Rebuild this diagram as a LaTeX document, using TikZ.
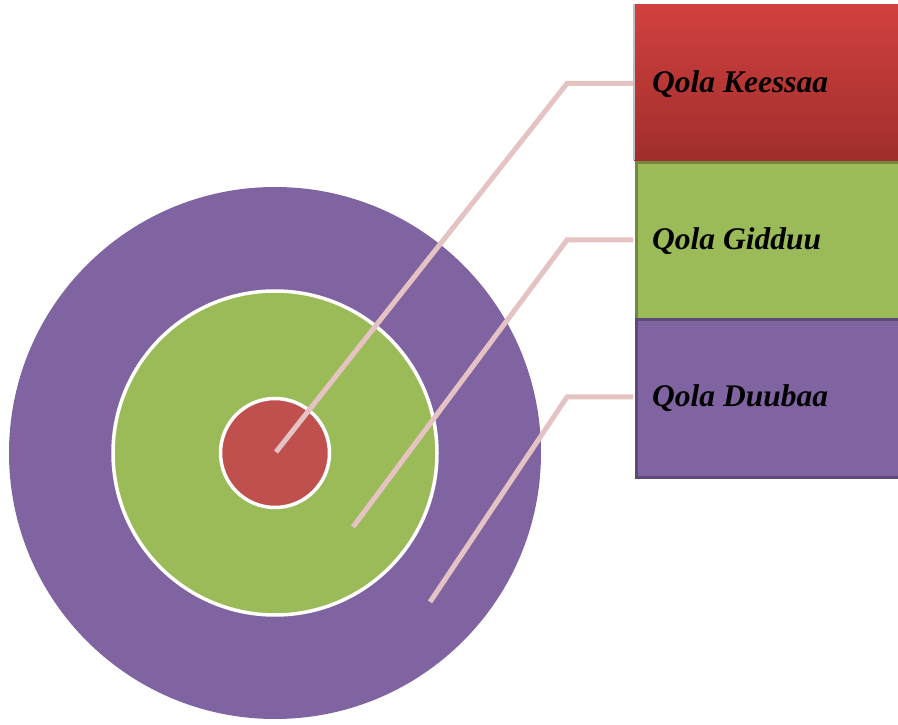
\documentclass[tikz,border=0pt]{standalone}
\usepackage{fontspec}
\setmainfont{Liberation Serif}
\definecolor{outerP}{RGB}{128,100,162}
\definecolor{outerPd}{RGB}{94,73,120}
\definecolor{midG}{RGB}{155,187,89}
\definecolor{midGd}{RGB}{113,137,63}
\definecolor{inR}{RGB}{192,80,77}
\definecolor{redTop}{RGB}{208,64,62}
\definecolor{redBot}{RGB}{160,46,44}
\definecolor{conn}{RGB}{230,195,195}
\tikzset{
  ring/.style={circle, draw=white, line width=3.5pt, inner sep=0pt},
  box/.style={rectangle, anchor=north west, inner sep=0pt, minimum width=270pt},
  lbl/.style={anchor=base west, inner sep=0pt, font=\fontsize{31.5}{38}\selectfont\bfseries\itshape},
  link/.style={draw=conn, line width=5pt}
}
\begin{document}
\begin{tikzpicture}[x=1pt,y=1pt]
\useasboundingbox (0,0) rectangle (898,724);
% circles
\node[circle, fill=outerP, inner sep=0pt, minimum size=532pt] (outer) at (275,271) {};
\node[ring, fill=midG, minimum size=324pt] (mid) at (275,271) {};
\node[ring, fill=inR, minimum size=109pt] (inner) at (275,271) {};
% boxes
\node[box, minimum height=156pt, top color=redTop, bottom color=redBot] (bk) at (634,720) {};
\draw[black!25, line width=1.2pt] (bk.north west) -- (bk.south west);
\node[box, minimum height=157pt, fill=midG, draw=midGd, line width=3pt] (bg) at (635,563) {};
\node[box, minimum height=158pt, fill=outerP, draw=outerPd, line width=3pt] (bd) at (635,406) {};
% connector end points
\coordinate (p1) at (276,272);
\coordinate (p2) at (353,197);
\coordinate (p3) at (430,122);
\coordinate (k1) at (567,640.5);
\coordinate (k2) at (567,484);
\coordinate (k3) at (567,327);
\coordinate (e1) at (633,640.5);
\coordinate (e2) at (633,484);
\coordinate (e3) at (633,327);
\draw[link] (p1) -- (k1) -- (e1);
\draw[link] (p2) -- (k2) -- (e2);
\draw[link] (p3) -- (k3) -- (e3);
% labels
\node[lbl] (t1) at (652,631) {Qola Keessaa};
\node[lbl] (t2) at (652,474) {Qola Gidduu};
\node[lbl] (t3) at (652,317) {Qola Duubaa};
\end{tikzpicture}
\end{document}
